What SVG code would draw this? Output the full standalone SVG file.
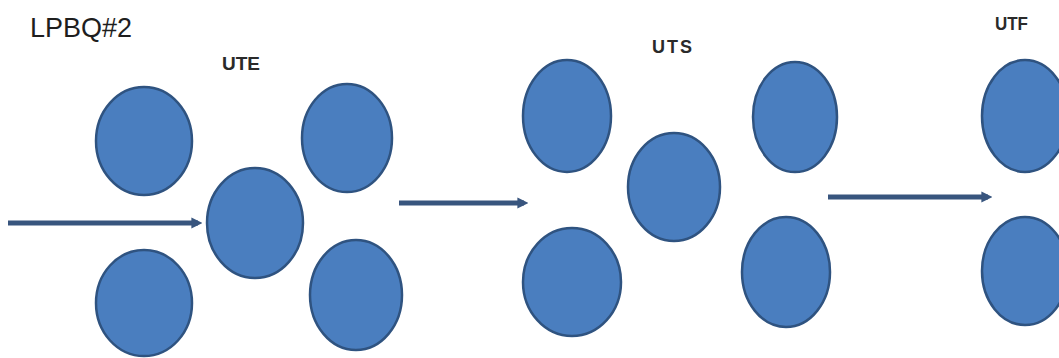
<svg xmlns="http://www.w3.org/2000/svg" width="1059" height="358" viewBox="0 0 1059 358">
  <defs>
    <style>
      .ball { fill: #4a7ebf; stroke: #2f5380; stroke-width: 2.5; }
      .flow { stroke: #38557e; stroke-width: 5; fill: none; }
      .title { font-family: "Liberation Sans", Arial, sans-serif; font-size: 28px; fill: #1e1e1e; }
      .stage { font-family: "Liberation Sans", Arial, sans-serif; font-size: 18px; font-weight: bold; fill: #2a2a2a; }
    </style>
    <marker id="head" viewBox="0 0 10 10" refX="6" refY="5" markerWidth="2.2" markerHeight="2.6" orient="auto" markerUnits="strokeWidth">
      <path d="M0,0 L10,5 L0,10 Z" fill="#38557e"/>
    </marker>
  </defs>
  <rect width="1059" height="358" fill="#ffffff"/>

  <text class="title" x="30" y="37" textLength="102" lengthAdjust="spacingAndGlyphs">LPBQ#2</text>

  <!-- stage labels -->
  <g id="label-ute"><text class="stage" x="222" y="70" textLength="38" lengthAdjust="spacingAndGlyphs">UTE</text></g>
  <g id="label-uts"><text class="stage" x="652" y="53" textLength="40" lengthAdjust="spacing">UTS</text></g>
  <g id="label-utf"><text class="stage" x="995" y="30" textLength="33" lengthAdjust="spacingAndGlyphs">UTF</text></g>

  <!-- UTE cluster -->
  <g id="ute-1"><ellipse class="ball" cx="144" cy="141" rx="48" ry="54"/></g>
  <g id="ute-2"><ellipse class="ball" cx="144" cy="303" rx="48" ry="53"/></g>
  <g id="ute-3"><ellipse class="ball" cx="255" cy="223" rx="48" ry="55"/></g>
  <g id="ute-4"><ellipse class="ball" cx="347" cy="138" rx="45" ry="54"/></g>
  <g id="ute-5"><ellipse class="ball" cx="356" cy="295" rx="46" ry="55"/></g>

  <!-- UTS cluster -->
  <g id="uts-1"><ellipse class="ball" cx="567" cy="116" rx="44" ry="56"/></g>
  <g id="uts-2"><ellipse class="ball" cx="674" cy="187" rx="46" ry="54"/></g>
  <g id="uts-3"><ellipse class="ball" cx="572" cy="282" rx="49" ry="54"/></g>
  <g id="uts-4"><ellipse class="ball" cx="795" cy="117" rx="42" ry="55"/></g>
  <g id="uts-5"><ellipse class="ball" cx="786" cy="272" rx="44" ry="55"/></g>

  <!-- UTF cluster -->
  <g id="utf-1"><ellipse class="ball" cx="1025" cy="116" rx="43" ry="56"/></g>
  <g id="utf-2"><ellipse class="ball" cx="1025" cy="271" rx="43" ry="54"/></g>

  <!-- connectors -->
  <g id="connectors">
    <line class="flow" x1="8" y1="223" x2="198" y2="223" marker-end="url(#head)"/>
    <line class="flow" x1="399" y1="203" x2="524" y2="203" marker-end="url(#head)"/>
    <line class="flow" x1="828" y1="197" x2="988" y2="197" marker-end="url(#head)"/>
  </g>
</svg>
